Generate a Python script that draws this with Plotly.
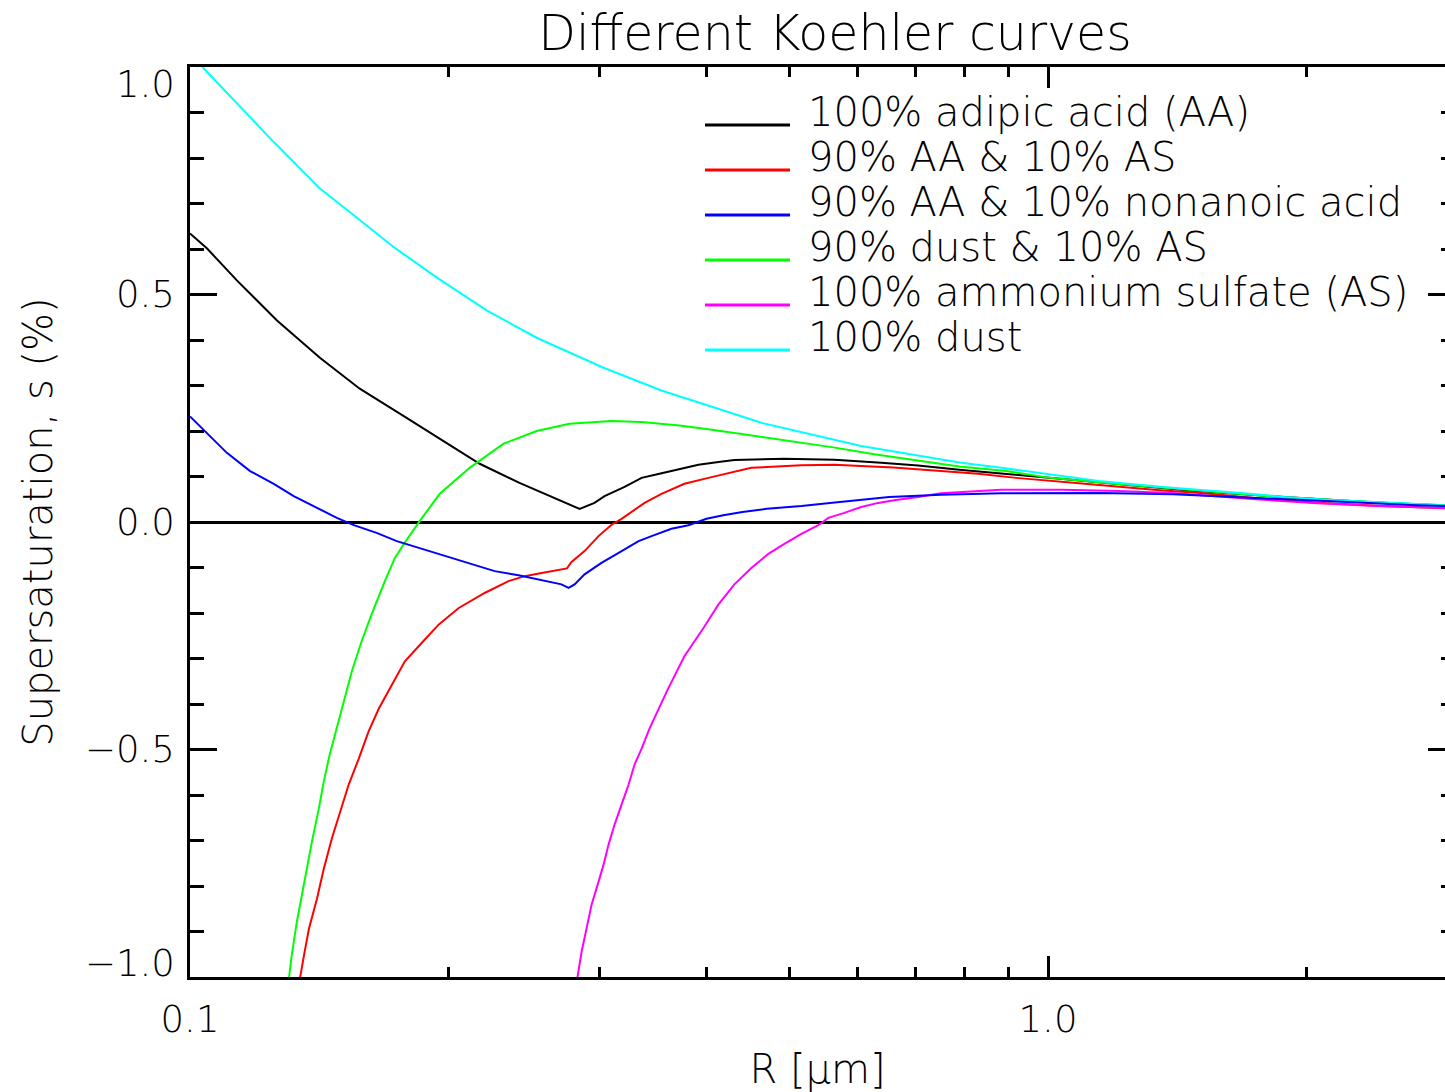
import math
import plotly.graph_objects as go

# Koehler curves: droplet radius R [um] and equilibrium supersaturation s [%]
r_aa = [0.100, 0.1047, 0.1134, 0.1263, 0.1417, 0.1577, 0.1756, 0.1955, 0.2176, 0.2421,
        0.2653, 0.2845, 0.2961, 0.3042, 0.3210, 0.3360, 0.3525, 0.3640, 0.3769, 0.3914,
        0.4130, 0.4310, 0.4929, 0.5636, 0.6392, 0.7057, 0.7880, 0.890, 1.005, 1.197,
        1.463, 1.887, 2.409, 2.907]
s_aa = [0.634, 0.601, 0.531, 0.443, 0.361, 0.293, 0.238, 0.183, 0.128, 0.086,
        0.053, 0.029, 0.042, 0.057, 0.077, 0.097, 0.106, 0.112, 0.119, 0.126,
        0.132, 0.136, 0.139, 0.137, 0.130, 0.124, 0.115, 0.106, 0.096, 0.083,
        0.069, 0.055, 0.043, 0.036]

r_aa_as = [0.1330, 0.1343, 0.1358, 0.1376, 0.1406, 0.1432, 0.1463, 0.1495, 0.1531, 0.1573,
           0.1615, 0.1660, 0.1719, 0.1780, 0.1862, 0.1950, 0.2057, 0.2205, 0.2351, 0.2455,
           0.2569, 0.2732, 0.2750, 0.2784, 0.2883, 0.2993, 0.3100, 0.3184, 0.3387, 0.3544,
           0.3769, 0.4019, 0.4276, 0.4511, 0.5159, 0.5636, 0.6604, 0.7448, 0.8291, 0.9180,
           1.005, 1.104, 1.350, 1.507, 1.808, 2.090, 2.455, 2.907]
s_aa_as = [-1.06, -1.004, -0.952, -0.894, -0.828, -0.762, -0.696, -0.637, -0.577, -0.520,
           -0.460, -0.410, -0.357, -0.306, -0.266, -0.225, -0.189, -0.156, -0.130, -0.119,
           -0.112, -0.104, -0.102, -0.088, -0.064, -0.031, -0.006, 0.007, 0.042, 0.062,
           0.084, 0.097, 0.108, 0.119, 0.125, 0.126, 0.120, 0.112, 0.106, 0.097,
           0.090, 0.084, 0.070, 0.064, 0.050, 0.042, 0.035, 0.030]

r_aa_na = [0.100, 0.1047, 0.1104, 0.1175, 0.1252, 0.1321, 0.1394, 0.1483, 0.1552, 0.1650,
           0.1742, 0.1887, 0.2029, 0.2113, 0.2265, 0.2415, 0.2589, 0.2710, 0.2762, 0.2807,
           0.2883, 0.3017, 0.3159, 0.3333, 0.3451, 0.3640, 0.3810, 0.3999, 0.4183, 0.4404,
           0.470, 0.5159, 0.557, 0.5946, 0.6529, 0.750, 0.882, 1.150, 1.400, 1.598,
           1.970, 2.296, 2.682, 2.907]
s_aa_na = [0.232, 0.194, 0.152, 0.112, 0.084, 0.057, 0.035, 0.009, -0.007, -0.024,
           -0.042, -0.062, -0.081, -0.092, -0.108, -0.117, -0.130, -0.137, -0.145, -0.137,
           -0.115, -0.090, -0.068, -0.042, -0.031, -0.015, -0.007, 0.007, 0.015, 0.022,
           0.029, 0.035, 0.042, 0.048, 0.055, 0.060, 0.063, 0.064, 0.061, 0.056,
           0.049, 0.043, 0.037, 0.035]

r_dust_as = [0.1295, 0.1304, 0.1314, 0.1332, 0.1350, 0.1369, 0.1387, 0.1413, 0.1432, 0.1455,
             0.1483, 0.1511, 0.1544, 0.1585, 0.1628, 0.1687, 0.1733, 0.1780, 0.1852, 0.1955,
             0.2118, 0.2320, 0.2535, 0.2769, 0.3100, 0.3360, 0.3719, 0.4019, 0.4536, 0.5062,
             0.5619, 0.6273, 0.7022, 0.7880, 0.8939, 1.005, 1.197, 1.463, 1.852, 2.508,
             2.907]
s_dust_as = [-1.05, -0.996, -0.952, -0.879, -0.819, -0.762, -0.703, -0.630, -0.570, -0.511,
             -0.454, -0.394, -0.328, -0.262, -0.203, -0.130, -0.079, -0.045, 0.002, 0.062,
             0.119, 0.172, 0.200, 0.216, 0.222, 0.220, 0.212, 0.204, 0.190, 0.176,
             0.164, 0.149, 0.136, 0.122, 0.112, 0.097, 0.084, 0.070, 0.055, 0.042,
             0.037]

r_as = [0.2815, 0.2829, 0.2860, 0.2899, 0.2938, 0.2993, 0.3034, 0.3075, 0.3125, 0.3184,
        0.3245, 0.3297, 0.3360, 0.3432, 0.3600, 0.3769, 0.3967, 0.4130, 0.4310, 0.4511,
        0.4721, 0.4929, 0.5159, 0.5399, 0.5546, 0.5789, 0.6058, 0.6341, 0.6618, 0.7057,
        0.750, 0.882, 1.036, 1.210, 1.409, 1.746, 2.035, 2.409, 2.907]
s_as = [-1.06, -1.000, -0.945, -0.894, -0.841, -0.791, -0.753, -0.709, -0.665, -0.621,
        -0.577, -0.533, -0.498, -0.454, -0.370, -0.295, -0.233, -0.181, -0.137, -0.101,
        -0.070, -0.048, -0.026, -0.007, 0.009, 0.020, 0.033, 0.042, 0.048, 0.055,
        0.063, 0.071, 0.071, 0.068, 0.063, 0.050, 0.042, 0.035, 0.031]

r_dust = [0.100, 0.1047, 0.1252, 0.1417, 0.1552, 0.1728, 0.1940, 0.2217, 0.2535, 0.2710,
          0.3034, 0.3544, 0.4634, 0.6058, 0.7922, 0.882, 0.9893, 1.146, 1.361, 1.6775,
          1.887, 2.158, 2.907]
s_dust = [1.03, 0.989, 0.835, 0.733, 0.674, 0.604, 0.537, 0.465, 0.405, 0.381,
          0.339, 0.289, 0.218, 0.167, 0.130, 0.119, 0.106, 0.090, 0.077, 0.064,
          0.055, 0.048, 0.037]

labels = ["100% adipic acid (AA)", "90% AA & 10% AS", "90% AA & 10% nonanoic acid",
          "90% dust & 10% AS", "100% ammonium sulfate (AS)", "100% dust"]
colors = ["#000000", "#ff0000", "#0000ff", "#00ff00", "#ff00ff", "#00ffff"]
series = [(r_aa, s_aa), (r_aa_as, s_aa_as), (r_aa_na, s_aa_na),
          (r_dust_as, s_dust_as), (r_as, s_as), (r_dust, s_dust)]

x_ticks = [0.1, 1.0]
x_ticktext = ["0.1", "1.0"]
x_minor = [0.2, 0.3, 0.4, 0.5, 0.6, 0.7, 0.8, 0.9, 2.0, 3.0]
y_ticks = [-1.0, -0.5, 0.0, 0.5, 1.0]
y_ticktext = ["\u22121.0", "\u22120.5", "0.0", "0.5", "1.0"]

FONT = "DejaVu Sans"
WEIGHT = 200
W, H = 1445, 1092
ML, MR, MT, MB = 190, 0, 67, 115
PW, PH = W - ML - MR, H - MT - MB
DECADE_PX = 858
X_MAX = 10 ** (-1 + PW / DECADE_PX)


def paper_x(px):
    return (px - ML) / PW


def paper_y(py):
    return (H - MB - py) / PH


def txt(size):
    return dict(family=FONT, size=size, color="black", weight=WEIGHT)


fig = go.Figure()

# later traces sit on top: dust curves, sulfate, then the AA mixtures
draw_order = [0, 1, 4, 3, 5, 2]
for i in draw_order:
    r, s = series[i]
    fig.add_trace(go.Scatter(x=r, y=s, mode="lines", name=labels[i],
                             line=dict(color=colors[i], width=2),
                             showlegend=False, hoverinfo="skip"))

# invisible anchor so the right-hand tick axis is rendered
fig.add_trace(go.Scatter(x=[x_ticks[0]], y=[y_ticks[2]], yaxis="y2", mode="markers",
                         marker=dict(opacity=0), showlegend=False, hoverinfo="skip"))

# legend drawn as line samples plus text
for i, (lab, col) in enumerate(zip(labels, colors)):
    y_line = 125 + 45 * i
    fig.add_shape(type="line", xref="paper", yref="paper",
                  x0=paper_x(705), x1=paper_x(790),
                  y0=paper_y(y_line), y1=paper_y(y_line),
                  line=dict(color=col, width=3))
    fig.add_annotation(text=lab, xref="paper", yref="paper",
                       x=paper_x(806), y=paper_y(y_line - 13),
                       xanchor="left", yanchor="middle", showarrow=False,
                       font=txt(40))

# y tick labels; the end labels sit just inside the axis range
label_shift = {1.0: -17, -1.0: 14}
for v, t in zip(y_ticks, y_ticktext):
    fig.add_annotation(text=t, xref="paper", yref="y", x=paper_x(177), y=v,
                       xanchor="right", yanchor="middle", showarrow=False,
                       yshift=label_shift.get(v, 0), font=txt(37))

fig.update_layout(
    width=W, height=H,
    margin=dict(l=ML, r=MR, t=MT, b=MB, autoexpand=False),
    paper_bgcolor="white", plot_bgcolor="white",
    showlegend=False,
    font=txt(37),
    title=dict(text="Different Koehler curves", x=835 / W, xref="container",
               y=1 - 33 / H, yref="container", xanchor="center", yanchor="middle",
               font=txt(49)),
    xaxis=dict(type="log", range=[-1, math.log10(X_MAX)], automargin=False,
               showline=True, linewidth=3, linecolor="black", mirror="ticks",
               ticks="inside", ticklen=21, tickwidth=3, tickcolor="black",
               tickmode="array", tickvals=x_ticks, ticktext=x_ticktext,
               tickfont=txt(37), ticklabelstandoff=8,
               minor=dict(ticks="inside", ticklen=10, tickwidth=3,
                          tickcolor="black", tickmode="array", tickvals=x_minor),
               showgrid=False, zeroline=False,
               title=dict(text="R [\u03bcm]", font=txt(40), standoff=22)),
    yaxis=dict(range=[-1, 1], automargin=False,
               showline=True, linewidth=3, linecolor="black", mirror=False,
               ticks="inside", ticklen=27, tickwidth=3, tickcolor="black",
               tickmode="array", tickvals=y_ticks, showticklabels=False,
               minor=dict(ticks="inside", ticklen=14, tickwidth=3,
                          tickcolor="black", dtick=0.1, tick0=0),
               showgrid=False,
               zeroline=True, zerolinecolor="black", zerolinewidth=3,
               title=dict(text="Supersaturation, s (%)", font=txt(40), standoff=123)),
    yaxis2=dict(range=[-1, 1], overlaying="y", side="right", anchor="x",
                automargin=False, showline=False,
                ticks="inside", ticklen=17, tickwidth=3, tickcolor="black",
                tickmode="array", tickvals=y_ticks, showticklabels=False,
                minor=dict(ticks="inside", ticklen=4, tickwidth=3,
                           tickcolor="black", dtick=0.1, tick0=0),
                showgrid=False, zeroline=False),
)

fig.write_html("out.html")
